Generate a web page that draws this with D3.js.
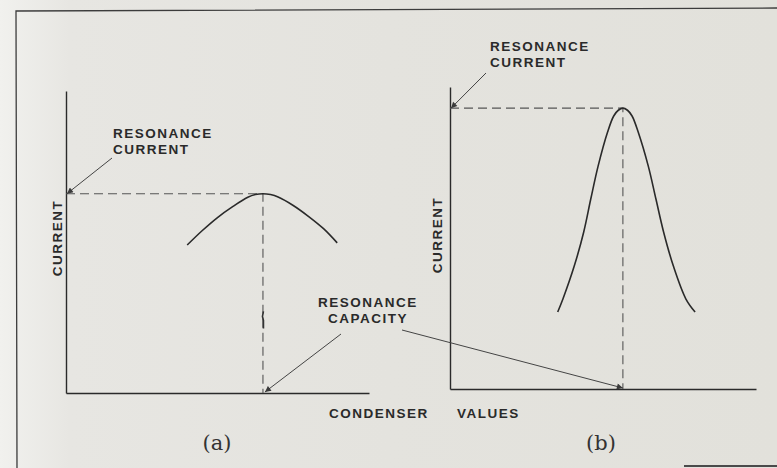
<!DOCTYPE html>
<html>
<head>
<meta charset="utf-8">
<script src="https://cdn.jsdelivr.net/npm/d3@7"></script>
<style>
  html, body { margin: 0; padding: 0; background: #e4e3de; }
  svg { display: block; }
</style>
</head>
<body>
<script>
// Resonance curves: current against condenser value for a broad (a) and a sharp (b) circuit.
// Condenser values and currents are in arbitrary units, 0-100 on both axes.
const capA = [40, 45, 50, 55, 60, 62.5, 65, 67.5, 70, 75, 80, 85, 89.5];
const curA = [49, 53.8, 58.1, 61.7, 64.8, 65.7, 66, 65.7, 64.9, 62.1, 58.5, 54.4, 49.7];

const capB = [35.2, 36.9, 40.6, 43.7, 46.0, 48.4, 51.5, 53.5, 55.0, 56.5, 58.0, 59.5, 61.5, 64.8, 67.3, 69.8, 73.0, 77.1, 80.1];
const curB = [25.5, 29.8, 40.7, 52.0, 62.9, 73.8, 85.1, 90.4, 92.3, 93, 92.3, 90.4, 85.1, 73.8, 62.9, 52.0, 40.7, 29.8, 25.5];

const panelNames = ["(a)", "(b)"];
const axisTitleY = "CURRENT";
const axisTitleX = ["CONDENSER", "VALUES"];
const noteCurrent = ["RESONANCE", "CURRENT"];
const noteCapacity = ["RESONANCE", "CAPACITY"];

const W = 777, H = 468;
const ink = "#2a2a2a";
const sans = "'Liberation Sans', Arial, sans-serif";

const svg = d3.select("body").append("svg").attr("width", W).attr("height", H);

const defs = svg.append("defs");
const bg = defs.append("linearGradient").attr("id", "paper").attr("x1", 0).attr("x2", 1).attr("y1", 0).attr("y2", 0);
bg.append("stop").attr("offset", 0).attr("stop-color", "#f1f1ee");
bg.append("stop").attr("offset", 0.09).attr("stop-color", "#e7e6e2");
bg.append("stop").attr("offset", 0.5).attr("stop-color", "#e4e3de");
bg.append("stop").attr("offset", 1).attr("stop-color", "#e2e1db");
svg.append("rect").attr("width", W).attr("height", H).attr("fill", "url(#paper)");

defs.append("marker").attr("id", "head").attr("viewBox", "0 0 10 10")
  .attr("refX", 10).attr("refY", 5).attr("markerWidth", 9).attr("markerHeight", 6)
  .attr("markerUnits", "userSpaceOnUse").attr("orient", "auto")
  .append("path").attr("d", "M0,0 L10,5 L0,10 Z").attr("fill", "#3a3a3a");

// page frame
svg.append("path").attr("d", "M17,470 L16,11 L777,8").attr("fill", "none")
  .attr("stroke", "#3c3c3c").attr("stroke-width", 1.3);
svg.append("line").attr("x1", 684).attr("x2", 777).attr("y1", 466).attr("y2", 466)
  .attr("stroke", "#4a4a4a").attr("stroke-width", 2);

const label = sel => sel.attr("font-family", sans).attr("font-size", 13.5)
  .attr("font-weight", "bold").attr("letter-spacing", 1.5).attr("fill", ink);

const panels = [
  { cap: capA, cur: curA, xr: [66, 369], yr: [393, 91], name: panelNames[0], nameX: 217,
    titleX: 62, titleY: 238,
    note: { x: 113, y: 138, from: [112, 158] } },
  { cap: capB, cur: curB, xr: [450, 756], yr: [389, 87], name: panelNames[1], nameX: 601,
    titleX: 442, titleY: 235,
    note: { x: 490, y: 51, from: [486, 73] } }
];

panels.forEach(p => {
  const x = d3.scaleLinear().domain([0, 100]).range(p.xr);
  const y = d3.scaleLinear().domain([0, 100]).range(p.yr);
  const g = svg.append("g");
  p.x = x; p.y = y;

  // axes (no ticks, plain lines)
  g.append("g").attr("transform", `translate(0,${y(0)})`)
    .call(d3.axisBottom(x).tickValues([]).tickSizeOuter(0))
    .call(a => a.select(".domain").attr("stroke", ink).attr("stroke-width", 1.4));
  g.append("g").attr("transform", `translate(${x(0)},0)`)
    .call(d3.axisLeft(y).tickValues([]).tickSizeOuter(0))
    .call(a => a.select(".domain").attr("stroke", ink).attr("stroke-width", 1.4));

  // resonance point
  const iMax = d3.maxIndex(p.cur);
  const rc = p.cap[iMax], ri = p.cur[iMax];
  p.rc = rc; p.ri = ri;

  g.append("path")
    .attr("d", `M${x(0)},${y(ri)} H${x(rc)} V${y(0)}`)
    .attr("fill", "none").attr("stroke", "#555").attr("stroke-width", 1.1)
    .attr("stroke-dasharray", "9,5");

  const line = d3.line().x((d, i) => x(p.cap[i])).y(d => y(d)).curve(d3.curveCatmullRom.alpha(0.5));
  g.append("path").datum(p.cur).attr("d", line)
    .attr("fill", "none").attr("stroke", ink).attr("stroke-width", 1.6);

  // y-axis title
  g.append("text").attr("transform", `translate(${p.titleX},${p.titleY}) rotate(-90)`)
    .attr("text-anchor", "middle").call(label).text(axisTitleY);

  // resonance current note
  g.append("text").call(label)
    .selectAll("tspan").data(noteCurrent).join("tspan")
    .attr("x", p.note.x).attr("y", (d, i) => p.note.y + i * 15.5).text(d => d);
  g.append("line")
    .attr("x1", p.note.from[0]).attr("y1", p.note.from[1])
    .attr("x2", x(0) + 1).attr("y2", y(ri))
    .attr("stroke", "#444").attr("stroke-width", 1).attr("marker-end", "url(#head)");

  // panel name
  g.append("text").attr("x", p.nameX).attr("y", 450).attr("text-anchor", "middle")
    .attr("font-family", "'DejaVu Serif', serif").attr("font-size", 21).attr("fill", "#333")
    .text(p.name);
});

// small print flaw on the dashed drop line of (a)
const pa = panels[0];
svg.append("path")
  .attr("d", `M${pa.x(pa.rc) + 0.5},${pa.y(27)} l-1,5 l1,4 l0,8`)
  .attr("fill", "none").attr("stroke", "#333").attr("stroke-width", 1.6);

// shared resonance capacity note with arrows to both x-axes
svg.append("text").call(label).attr("text-anchor", "middle")
  .selectAll("tspan").data(noteCapacity).join("tspan")
  .attr("x", 368).attr("y", (d, i) => 307 + i * 15.5).text(d => d);

const pb = panels[1];
svg.append("line").attr("x1", 341).attr("y1", 334)
  .attr("x2", pa.x(pa.rc) + 2).attr("y2", pa.y(0) - 1)
  .attr("stroke", "#444").attr("stroke-width", 1).attr("marker-end", "url(#head)");
svg.append("line").attr("x1", 402).attr("y1", 330)
  .attr("x2", pb.x(pb.rc)).attr("y2", pb.y(0) - 1)
  .attr("stroke", "#444").attr("stroke-width", 1).attr("marker-end", "url(#head)");

// shared x-axis title
svg.append("text").call(label).attr("x", 329).attr("y", 418).text(axisTitleX[0]);
svg.append("text").call(label).attr("x", 457).attr("y", 418).text(axisTitleX[1]);
</script>
</body>
</html>
